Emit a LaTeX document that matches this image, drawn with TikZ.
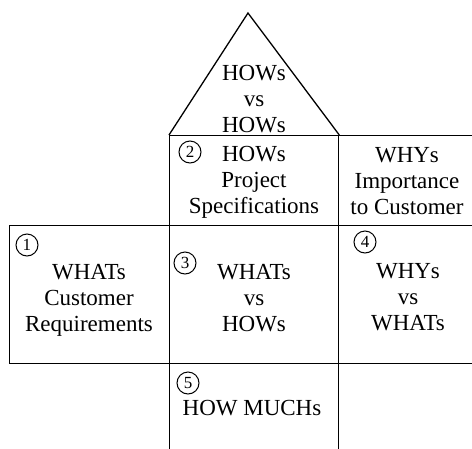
\documentclass[tikz,border=0pt]{standalone}
\usepackage{fontspec}
\setmainfont{Liberation Serif}
\begin{document}
\begin{tikzpicture}[x=1pt,y=-1pt,line width=1.3pt,
  cell/.style={draw, inner sep=0pt, anchor=north west},
  lbl/.style={font=\fontsize{23}{26}\selectfont, align=center, inner sep=0pt},
  num/.style={draw, circle, line width=1pt, inner sep=0pt, minimum size=22pt, font=\fontsize{17}{17}\selectfont}]
\useasboundingbox (0,0) rectangle (472,448);
% cells
\node[cell, minimum width=169pt, minimum height=90pt]  (b2) at (169,135) {};
\node[cell, minimum width=150pt, minimum height=90pt]  (bw) at (338,135) {};
\node[cell, minimum width=160pt, minimum height=138pt] (b1) at (9,225) {};
\node[cell, minimum width=169pt, minimum height=138pt] (b3) at (169,225) {};
\node[cell, minimum width=150pt, minimum height=138pt] (b4) at (338,225) {};
\node[cell, minimum width=169pt, minimum height=100pt] (b5) at (169,363) {};
% roof
\coordinate (apex) at (248,13);
\draw[line join=miter] (b2.north west) -- (apex) -- (b2.north east);
% texts
\node[lbl] (troof) at (254,99) {HOWs\\vs\\HOWs};
\node[lbl] (t2) at (254,182) {HOWs\\Project\\Specifications};
\node[lbl] (tw) at (407,181) {WHYs\\Importance\\to Customer};
\node[lbl] (t1) at (89,300) {WHATs\\Customer\\Requirements};
\node[lbl] (t3) at (254,298) {WHATs\\vs\\HOWs};
\node[lbl] (t4) at (408,297) {WHYs\\vs\\WHATs};
\node[lbl] (t5) at (252,408) {HOW MUCHs};
% circled numbers
\node[num] (n1) at (27,245) {1};
\node[num] (n2) at (190,152) {2};
\node[num] (n3) at (185,263) {3};
\node[num] (n4) at (365,242) {4};
\node[num] (n5) at (188,383) {5};
\end{tikzpicture}
\end{document}
